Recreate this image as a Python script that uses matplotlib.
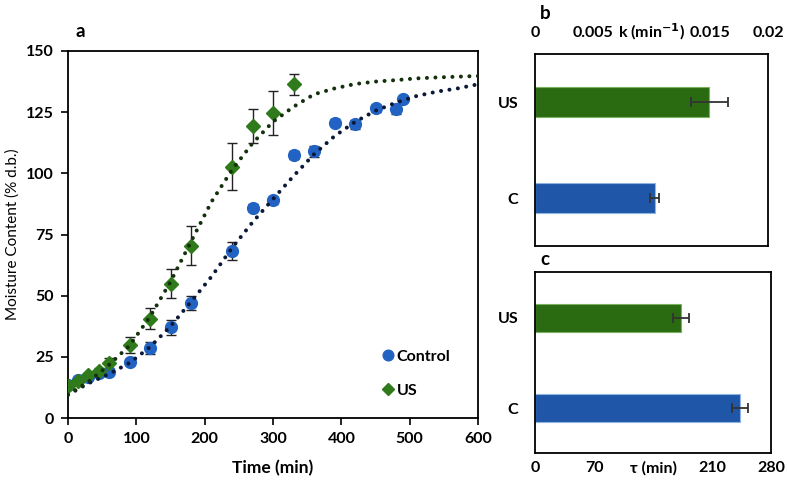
import matplotlib
matplotlib.use("Agg")
import matplotlib.pyplot as plt
import numpy as np

plt.rcParams['font.family'] = ['Lato', 'DejaVu Sans']
plt.rcParams['font.weight'] = 'bold'

# ---- data (panel a) ----
t_control = [0, 15, 30, 45, 60, 90, 120, 150, 180, 240, 270, 300, 330, 360, 390, 420, 450, 480, 490]
m_control = [13.5, 15.5, 16.9, 18.3, 18.9, 23.0, 28.5, 37.0, 47.0, 68.4, 86.0, 89.0, 107.5, 109.0, 120.7, 120.0, 126.6, 126.2, 130.2]
e_control = [0.8, 0.8, 0.8, 0.8, 1.0, 1.2, 2.5, 3.1, 2.7, 3.7, 1.5, 1.5, 1.5, 2.2, 1.5, 2.0, 1.5, 2.0, 1.0]

t_us = [0, 15, 30, 45, 60, 90, 120, 150, 180, 240, 270, 300, 330]
m_us = [13.1, 15.3, 17.4, 19.3, 22.6, 29.7, 40.6, 54.8, 70.4, 102.7, 119.3, 124.8, 136.4]
e_us = [0.8, 0.8, 1.0, 1.2, 2.0, 3.3, 4.3, 5.9, 7.9, 9.5, 6.8, 9.0, 4.4]

t_fit = [0, 30, 60, 90, 120, 150, 180, 210, 240, 270, 300, 330, 360, 390, 420, 450, 480, 510, 540, 570, 600]
fit_control = [9.5, 14.2, 18.0, 22.5, 29.0, 37.5, 47.5, 57.8, 69.5, 80.0, 89.5, 98.9, 107.8, 115.2, 121.0, 125.6, 128.9, 131.6, 133.4, 134.7, 136.4]
fit_us = [9.5, 14.8, 21.7, 29.6, 41.4, 55.7, 72.1, 88.4, 101.4, 112.3, 121.1, 127.2, 132.3, 134.7, 136.5, 137.5, 138.1, 138.8, 139.2, 139.5, 139.8]

# ---- data (panels b, c) ----
groups = ['C', 'US']
k_vals = [0.01026, 0.01494]
k_err = [0.00037, 0.0016]
tau_vals = [243.0, 173.0]
tau_err = [9.8, 9.3]

blue_m = '#2262c2'
green_m = '#2f7a1a'
blue_bar = '#1f56a8'
green_bar = '#2a6b12'
FS = 11.5

fig = plt.figure(figsize=(7.87, 4.88), dpi=100)

# ---- panel a ----
ax = fig.add_axes([0.0864, 0.1434, 0.521, 0.7521])
ax.errorbar(t_control, m_control, yerr=e_control, fmt='none', ecolor='#222222',
            elinewidth=1.0, capsize=3.5, capthick=1.0, zorder=2)
ax.errorbar(t_us, m_us, yerr=e_us, fmt='none', ecolor='#222222',
            elinewidth=1.0, capsize=3.5, capthick=1.0, zorder=2)
ax.plot(t_control, m_control, 'o', color=blue_m, ms=8.5, mec=blue_m, zorder=3, label='Control')
ax.plot(t_us, m_us, 'D', color=green_m, ms=7, mec=green_m, zorder=3, label='US')
ax.plot(t_fit, fit_control, color='#0b1838', lw=2.9, linestyle=(0, (0.01, 2.1)),
        dash_capstyle='round', zorder=4)
ax.plot(t_fit, fit_us, color='#14300c', lw=2.9, linestyle=(0, (0.01, 2.1)),
        dash_capstyle='round', zorder=4)
ax.set_xlim(0, 600)
ax.set_ylim(0, 150)
ax.set_xticks([0, 100, 200, 300, 400, 500, 600])
ax.set_yticks([0, 25, 50, 75, 100, 125, 150])
ax.tick_params(direction='out', length=5, width=1.2, labelsize=FS, pad=5)
for s in ax.spines.values():
    s.set_linewidth(1.3)
ax.set_xlabel('Time (min)', fontsize=12.5, fontweight='bold')
ax.xaxis.set_label_coords(0.5, -0.115)
ax.set_ylabel('Moisture Content (% d.b.)', fontsize=11, fontweight='normal')
ax.yaxis.set_label_coords(-0.118, 0.5)
leg = ax.legend(loc='lower left', bbox_to_anchor=(0.745, 0.037), frameon=False,
                fontsize=FS, handletextpad=0.05, handlelength=1.0, labelspacing=1.25,
                markerscale=0.9, borderaxespad=0)
fig.text(0.1017, 0.935, 'a', fontsize=13.5, fontweight='bold', ha='center', va='center')

# ---- panel b ----
axb = fig.add_axes([0.6798, 0.4959, 0.2964, 0.3928])
yb = np.arange(len(groups))
axb.barh(yb, k_vals, height=0.31, color=[blue_bar, green_bar],
         edgecolor=['#8fb4e0', '#7ab060'], linewidth=0.8)
axb.errorbar(k_vals, yb, xerr=k_err, fmt='none', ecolor='#333333', elinewidth=1.3,
             capsize=3.5, capthick=1.3)
axb.set_xlim(0, 0.02)
axb.set_ylim(-0.5, 1.5)
axb.xaxis.tick_top()
axb.set_xticks([0, 0.005, 0.01, 0.015, 0.02])
axb.set_xticklabels(['0', '0.005', '', '0.015', '0.02'])
axb.set_yticks(yb)
axb.set_yticklabels(groups)
axb.tick_params(length=0, labelsize=FS)
axb.tick_params(axis='y', pad=12)
axb.tick_params(axis='x', pad=10)
for s in axb.spines.values():
    s.set_linewidth(1.3)
axb.text(0.01, 1.118, 'k (min$^{\\mathbf{-1}}$)', transform=axb.get_xaxis_transform(),
         ha='center', va='center', fontsize=FS, fontweight='bold')
fig.text(0.6925, 0.973, 'b', fontsize=13.5, fontweight='bold', ha='center', va='center')

# ---- panel c ----
axc = fig.add_axes([0.6798, 0.0711, 0.2999, 0.3709])
axc.barh(yb, tau_vals, height=0.31, color=[blue_bar, green_bar],
         edgecolor=['#8fb4e0', '#7ab060'], linewidth=0.8)
axc.errorbar(tau_vals, yb, xerr=tau_err, fmt='none', ecolor='#333333', elinewidth=1.3,
             capsize=3.5, capthick=1.3)
axc.set_xlim(0, 280)
axc.set_ylim(-0.5, 1.5)
axc.set_xticks([0, 70, 140, 210, 280])
axc.set_xticklabels(['0', '70', '', '210', '280'])
axc.set_yticks(yb)
axc.set_yticklabels(groups)
axc.tick_params(length=0, labelsize=FS)
axc.tick_params(axis='y', pad=12)
axc.tick_params(axis='x', pad=5.5)
for s in axc.spines.values():
    s.set_linewidth(1.3)
axc.text(140, -0.082, 'τ (min)', transform=axc.get_xaxis_transform(),
         ha='center', va='center', fontsize=FS, fontweight='bold')
fig.text(0.6925, 0.469, 'c', fontsize=13.5, fontweight='bold', ha='center', va='center')

fig.savefig('out.png', dpi=100)
